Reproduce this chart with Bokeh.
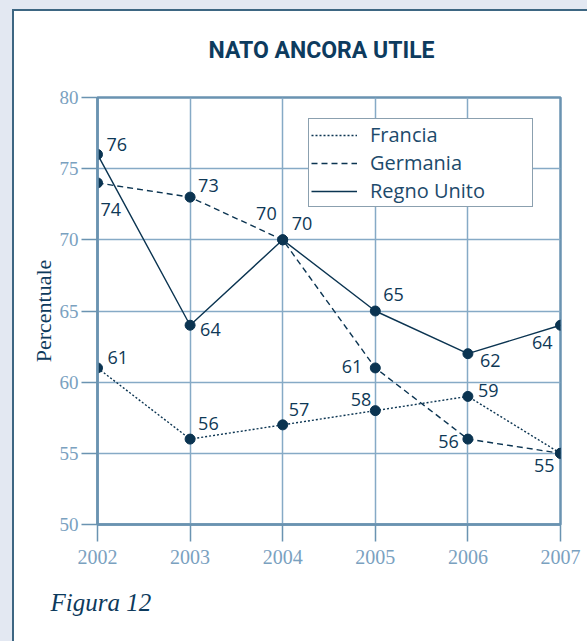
from bokeh.plotting import figure
from bokeh.models import (Range1d, FixedTicker, Legend, LegendItem, Title,
                          ColumnDataSource)
from bokeh.core.properties import value
from bokeh.embed import file_html
from bokeh.resources import INLINE

# ---- data ----
years = [2002, 2003, 2004, 2005, 2006, 2007]
francia = [61, 56, 57, 58, 59, 55]
germania = [74, 73, 70, 61, 56, 55]
regno_unito = [76, 64, 70, 65, 62, 64]
y_ticks = [50, 55, 60, 65, 70, 75, 80]
series_names = ["Francia", "Germania", "Regno Unito"]

# ---- label layout (pixel offsets, alignment; None = no label) ----
fr_lab = [(10, -10, "left"), (8, -16, "left"), (6, -15, "left"),
          (-4, -11, "right"), (10, -6, "left"), (-6, 12, "right")]
de_lab = [(3, 27, "left"), (8, -12, "left"), (-6, -26, "right"),
          (-13, -1, "right"), (-9, 2, "right"), None]
uk_lab = [(9, -10, "left"), (10, 4, "left"), (9, -16, "left"),
          (8, -17, "left"), (12, 7, "left"), (-8, 17, "right")]

NAVY = "#0b3451"
TEXT = "#0e3856"
GRID = "#86aac6"
FRAME = "#6a93b1"
TICKTXT = "#7aa1bf"
PAGE_BG = "#e3e8f2"
PANEL_LINE = "#3d6682"

p = figure(width=587, height=641, output_backend="svg", toolbar_location=None,
           x_range=Range1d(2002, 2007), y_range=Range1d(50, 80),
           min_border_left=97, min_border_right=27, min_border_top=97,
           min_border_bottom=117)

# page background + white panel with border (drawn by the host element)
p.border_fill_color = None
p.background_fill_color = "white"
p.styles = {
    "background-color": "white",
    "background-image": (
        f"linear-gradient({PAGE_BG}, {PAGE_BG}), "
        f"linear-gradient(to bottom, {PAGE_BG} 0px, {PAGE_BG} 9px, "
        f"{PANEL_LINE} 9px, {PANEL_LINE} 11px, transparent 11px), "
        f"linear-gradient(to right, {PAGE_BG} 0px, {PAGE_BG} 12px, "
        f"{PANEL_LINE} 12px, {PANEL_LINE} 14px, transparent 14px)"
    ),
    "background-size": "12px 11px, 100% 100%, 100% 100%",
    "background-repeat": "no-repeat",
}

# title
p.title.text = "NATO ANCORA UTILE"
p.title.align = "left"
p.title.offset = 111
p.title.text_font = "Roboto"
p.title.text_font_style = "bold"
p.title.text_font_size = "23px"
p.title.text_color = "#0d3b5e"
p.title.standoff = 67

# axes
p.xaxis.ticker = FixedTicker(ticks=years)
p.yaxis.ticker = FixedTicker(ticks=y_ticks)
for ax in (p.xaxis[0], p.yaxis[0]):
    ax.axis_line_color = FRAME
    ax.axis_line_width = 2.5
    ax.major_tick_line_color = FRAME
    ax.major_tick_line_width = 1.5
    ax.major_tick_in = 0
    ax.minor_tick_line_color = None
    ax.major_label_text_font = "Liberation Serif"
    ax.major_label_text_color = TICKTXT
p.xaxis.major_tick_out = 17
p.yaxis.major_tick_out = 16
p.xaxis.major_label_text_font_size = "20px"
p.yaxis.major_label_text_font_size = "19px"
p.xaxis.major_label_standoff = 8
p.yaxis.major_label_standoff = 3
p.yaxis.axis_label = "Percentuale"
p.yaxis.axis_label_text_font = "Liberation Serif"
p.yaxis.axis_label_text_font_style = "normal"
p.yaxis.axis_label_text_font_size = "22px"
p.yaxis.axis_label_text_color = "#0d3a5c"
p.yaxis.axis_label_standoff = 1

p.grid.grid_line_color = GRID
p.grid.grid_line_width = 1.5
p.outline_line_color = FRAME
p.outline_line_width = 2.5

# lines, points and value labels
dashes = ["2 2", "6 4", "solid"]
series = [francia, germania, regno_unito]
labs = [fr_lab, de_lab, uk_lab]
items = []
for name, vals, dash, lab in zip(series_names, series, dashes, labs):
    r = p.line(years, vals, line_color=NAVY, line_width=1.4, line_dash=dash)
    p.scatter(years, vals, size=10, fill_color=NAVY, line_color=NAVY)
    items.append(LegendItem(label=name, renderers=[r]))
    xs, ys, ts, dx, dy, al = [], [], [], [], [], []
    for x, v, l in zip(years, vals, lab):
        if l is None:
            continue
        xs.append(x); ys.append(v); ts.append(str(v))
        dx.append(l[0]); dy.append(l[1]); al.append(l[2])
    src = ColumnDataSource(dict(x=xs, y=ys, t=ts, dx=dx, dy=dy, al=al))
    p.text("x", "y", text="t", x_offset="dx", y_offset="dy", text_align="al",
           text_baseline="middle", text_font=value("Open Sans"),
           text_font_size="18px", text_color=TEXT, source=src)

legend = Legend(items=items, location=(211, 317))
legend.border_line_color = "#17415f"
legend.border_line_width = 1.5
legend.background_fill_color = "white"
legend.background_fill_alpha = 1.0
legend.label_text_font = "Open Sans"
legend.label_text_font_size = "20px"
legend.label_text_color = "#1d4a6b"
legend.glyph_width = 46
legend.glyph_height = 18
legend.label_height = 18
legend.spacing = 1
legend.padding = 2
legend.margin = 0
legend.label_standoff = 13
legend.label_width = 160
p.add_layout(legend, "center")

fig_title = Title(text="Figura 12", align="left", offset=-47,
                  text_font="Liberation Serif", text_font_style="italic",
                  text_font_size="25px", text_color="#0d3a5c", standoff=40)
p.add_layout(fig_title, "below")

open("out.html", "w").write(file_html(p, INLINE))
